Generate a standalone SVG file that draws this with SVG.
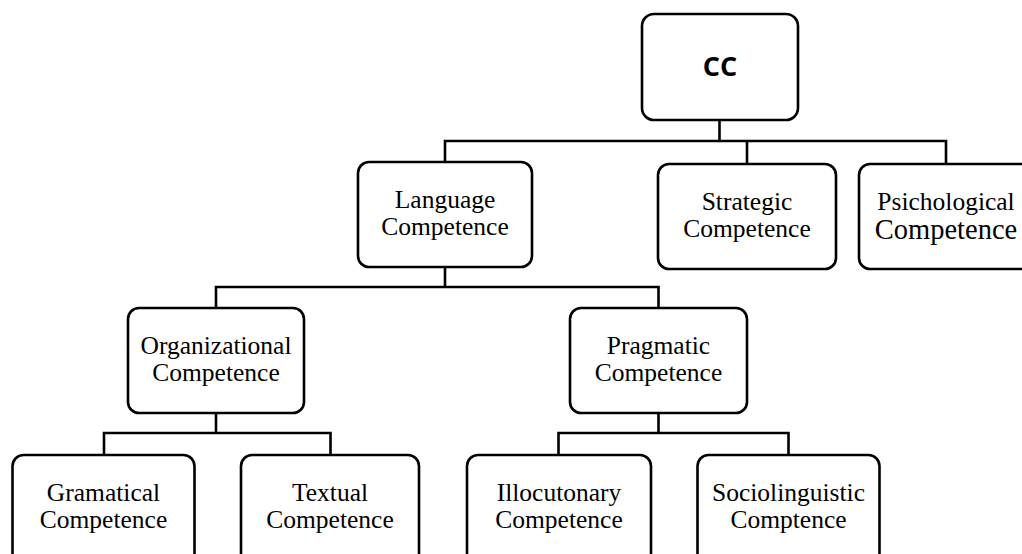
<svg xmlns="http://www.w3.org/2000/svg" width="1022" height="554" viewBox="0 0 1022 554">
<style>
.box{fill:#fff;stroke:#000;stroke-width:2.6}
.lbl{font-family:"Liberation Serif","Times New Roman",serif;font-size:25.5px;fill:#000;text-anchor:middle}
.conn{fill:none;stroke:#000;stroke-width:2.6;stroke-linecap:square}
.cc{font-family:"Open Sans","Liberation Sans",sans-serif;font-weight:bold;font-size:27px;fill:#000;text-anchor:middle}
</style>
<rect width="1022" height="554" fill="#fff"/>
<g id="connectors">
<path class="conn" d="M719.5 120V141M445 141H946M445 141V162M747 141V164M946 141V164"/>
<path class="conn" d="M445 267V287M216 287H658.5M216 287V308M658.5 287V308"/>
<path class="conn" d="M216 413V433M104 433H330.5M104 433V455M330.5 433V455"/>
<path class="conn" d="M658.5 413V433M558.5 433H788.5M558.5 433V455M788.5 433V455"/>
</g>
<g id="cc">
<rect class="box" x="642" y="14" width="156" height="106" rx="12"/>
<text class="cc" x="720" y="76">CC</text>
</g>
<g id="language">
<rect class="box" x="358" y="162" width="174" height="105" rx="11"/>
<text class="lbl" x="445" y="208">Language</text>
<text class="lbl" x="445" y="235">Competence</text>
</g>
<g id="strategic">
<rect class="box" x="658" y="164" width="178" height="105" rx="11"/>
<text class="lbl" x="747" y="210">Strategic</text>
<text class="lbl" x="747" y="237">Competence</text>
</g>
<g id="psichological">
<rect class="box" x="859" y="164" width="174" height="105" rx="11"/>
<text class="lbl" x="946" y="210">Psichological</text>
<text class="lbl" x="946" y="239" style="font-size:28.5px">Competence</text>
</g>
<g id="organizational">
<rect class="box" x="128" y="308" width="176" height="105" rx="11"/>
<text class="lbl" x="216" y="354">Organizational</text>
<text class="lbl" x="216" y="381">Competence</text>
</g>
<g id="pragmatic">
<rect class="box" x="570" y="308" width="177" height="105" rx="11"/>
<text class="lbl" x="658.5" y="354">Pragmatic</text>
<text class="lbl" x="658.5" y="381">Competence</text>
</g>
<g id="gramatical">
<rect class="box" x="12.5" y="455" width="182" height="115" rx="11"/>
<text class="lbl" x="103.5" y="501">Gramatical</text>
<text class="lbl" x="103.5" y="528">Competence</text>
</g>
<g id="textual">
<rect class="box" x="241" y="455" width="178" height="115" rx="11"/>
<text class="lbl" x="330" y="501">Textual</text>
<text class="lbl" x="330" y="528">Competence</text>
</g>
<g id="illocutonary">
<rect class="box" x="467" y="455" width="184" height="115" rx="11"/>
<text class="lbl" x="559" y="501">Illocutonary</text>
<text class="lbl" x="559" y="528">Competence</text>
</g>
<g id="sociolinguistic">
<rect class="box" x="697.5" y="455" width="182" height="115" rx="11"/>
<text class="lbl" x="788.5" y="501">Sociolinguistic</text>
<text class="lbl" x="788.5" y="528">Comptence</text>
</g>
</svg>
